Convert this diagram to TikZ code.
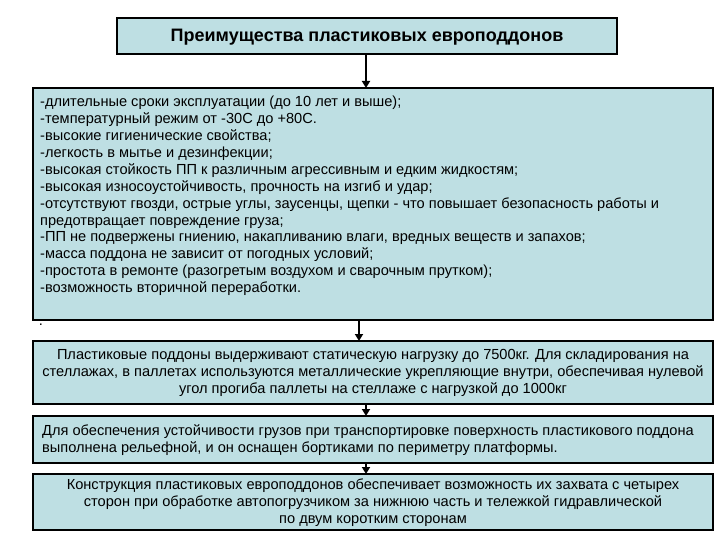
\documentclass[tikz,border=0pt]{standalone}
\usepackage{fontspec}
\setmainfont{Liberation Sans}
\usetikzlibrary{arrows.meta}
\definecolor{boxfill}{HTML}{BEDFE3}
\begin{document}
\begin{tikzpicture}[x=1pt,y=-1pt,
  bx/.style={draw=black,line width=2.4pt,fill=boxfill},
  arr/.style={line width=2.2pt,-{Triangle[length=7pt,width=8pt]}},
  txt/.style={inner sep=0pt,font=\fontsize{14.6}{16.9}\selectfont},
  txt2/.style={inner sep=0pt,font=\fontsize{14.6}{17}\selectfont}]
\useasboundingbox (0,0) rectangle (720,540);
\draw[bx] (117,18) rectangle (617,54);
\node[inner sep=0pt,font=\bfseries\fontsize{18}{20}\selectfont] (t) at (367,37) {Преимущества пластиковых европоддонов};
\draw[bx] (33,88) rectangle (713,320);
\coordinate (b1n) at (366,88); \coordinate (tS) at (366,54);
\node[txt,anchor=north west,align=left] (l) at (40,96) {-длительные сроки эксплуатации (до 10 лет и выше);\\
-температурный режим от -30С до +80С.\\
-высокие гигиенические свойства;\\
-легкость в мытье и дезинфекции;\\
-высокая стойкость ПП к различным агрессивным и едким жидкостям;\\
-высокая износоустойчивость, прочность на изгиб и удар;\\
-отсутствуют гвозди, острые углы, заусенцы, щепки - что повышает безопасность работы и\\
предотвращает повреждение груза;\\
-ПП не подвержены гниению, накапливанию влаги, вредных веществ и запахов;\\
-масса поддона не зависит от погодных условий;\\
-простота в ремонте (разогретым воздухом и сварочным прутком);\\
-возможность вторичной переработки.};
\node[txt] (dot) at (41,325) {.};
\draw[bx] (33,341) rectangle (713,404);
\node[txt2,align=center] (b2) at (373,373) {Пластиковые поддоны выдерживают статическую нагрузку до 7500кг. Для складирования на\\
стеллажах, в паллетах используются металлические укрепляющие внутри, обеспечивая нулевой\\
угол прогиба паллеты на стеллаже с нагрузкой до 1000кг};
\draw[bx] (33,416) rectangle (713,463);
\node[txt2,anchor=west,align=left] (b3) at (42,440) {Для обеспечения устойчивости грузов при транспортировке поверхность пластикового поддона\\
выполнена рельефной, и он оснащен бортиками по периметру платформы.};
\draw[bx] (33,474) rectangle (713,530);
\node[txt2,align=center] (b4) at (373,503) {Конструкция пластиковых европоддонов обеспечивает возможность их захвата с четырех\\
сторон при обработке автопогрузчиком за нижнюю часть и тележкой гидравлической\\
по двум коротким сторонам};
\coordinate (a1s) at (359,320); \coordinate (a1e) at (359,341);
\coordinate (a2s) at (366,404); \coordinate (a2e) at (366,416);
\coordinate (a3s) at (366,463); \coordinate (a3e) at (366,474);
\draw[arr] (tS) -- (b1n);
\draw[arr] (a1s) -- (a1e);
\draw[arr] (a2s) -- (a2e);
\draw[arr] (a3s) -- (a3e);
\end{tikzpicture}
\end{document}
